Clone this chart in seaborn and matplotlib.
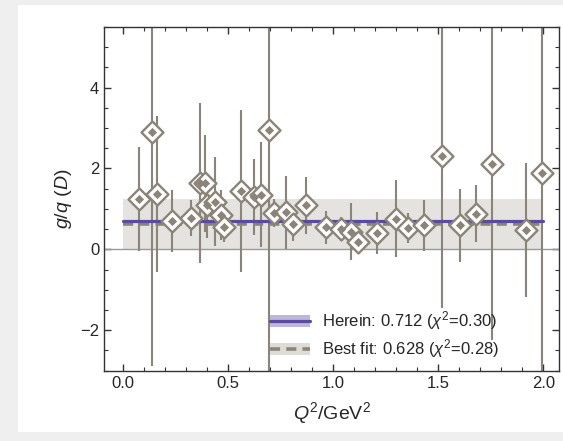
import numpy as np
import pandas as pd
import matplotlib
matplotlib.use("Agg")
import matplotlib.pyplot as plt
import seaborn as sns
from matplotlib.patches import Patch, Rectangle
from matplotlib.lines import Line2D
from matplotlib.ticker import MultipleLocator

# data
q2 = [0.073, 0.135, 0.160, 0.232, 0.322, 0.366, 0.390, 0.399, 0.436, 0.464, 0.481,
      0.560, 0.621, 0.655, 0.694, 0.718, 0.774, 0.806, 0.870, 0.964, 1.035, 1.082,
      1.119, 1.207, 1.299, 1.356, 1.433, 1.516, 1.603, 1.678, 1.754, 1.919, 1.995]
ratio = [1.24, 2.90, 1.37, 0.70, 0.77, 1.65, 1.64, 1.09, 1.18, 0.85, 0.56,
         1.45, 1.30, 1.35, 2.94, 0.90, 0.92, 0.62, 1.09, 0.54, 0.50, 0.44,
         0.19, 0.40, 0.76, 0.53, 0.59, 2.32, 0.59, 0.88, 2.10, 0.48, 1.88]
err = [1.28, 5.78, 1.92, 0.77, 0.45, 1.98, 1.20, 0.80, 1.10, 0.63, 0.37,
       2.00, 0.94, 1.30, 7.00, 0.35, 0.90, 0.42, 0.70, 0.40, 0.30, 0.70,
       0.24, 0.52, 0.95, 0.38, 0.63, 3.78, 0.91, 0.70, 4.34, 1.65, 5.50]

herein = 0.712
best_fit = 0.628
band_lo, band_hi = 0.0, 1.25
fit_range = [0.0, 2.0]

df = pd.DataFrame({"q2": q2, "ratio": ratio, "err": err})

sns.set_style("ticks")
plt.rcParams["font.family"] = ["Liberation Sans", "DejaVu Sans"]
plt.rcParams["mathtext.fontset"] = "custom"
plt.rcParams["mathtext.rm"] = "Liberation Sans"
plt.rcParams["mathtext.it"] = "Liberation Sans:italic"

fig = plt.figure(figsize=(5.63, 4.41), dpi=100, facecolor="#efefef")
fig.patches.append(Rectangle((18 / 563, 1 - 432 / 441), 1, 427 / 441,
                             transform=fig.transFigure, facecolor="white",
                             edgecolor="none", zorder=-10))
ax = fig.add_axes([104 / 563, 1 - 371 / 441, 455 / 563, 344 / 441])
ax.set_facecolor("none")

gray = "#8b8478"
purple = "#5b4a9e"

ax.fill_between(fit_range, band_lo, band_hi, color="#e4e3df", lw=0, zorder=1)
ax.axhline(0, color="#9a9a9a", lw=1, zorder=1)

ax.errorbar(df.q2, df.ratio, yerr=df.err, fmt="none", ecolor=gray, elinewidth=1.5,
            capsize=0, zorder=2)

fit_df = pd.DataFrame({"x": fit_range, "herein": [herein] * 2, "best": [best_fit] * 2})
sns.lineplot(data=fit_df, x="x", y="best", ax=ax, color=gray, lw=2.6,
             linestyle=(0, (2.8, 1.7)), zorder=3)
sns.lineplot(data=fit_df, x="x", y="herein", ax=ax, color=purple, lw=2.3, zorder=4)

sns.scatterplot(data=df, x="q2", y="ratio", ax=ax, marker="D", s=125,
                facecolor="white", edgecolor=gray, linewidth=1.7, zorder=5)
sns.scatterplot(data=df, x="q2", y="ratio", ax=ax, marker="D", s=22,
                color=gray, edgecolor=gray, linewidth=0, zorder=6)

ax.set_xlim(-0.092, 2.075)
ax.set_ylim(-3.01, 5.5)
ax.xaxis.set_major_locator(MultipleLocator(0.5))
ax.xaxis.set_minor_locator(MultipleLocator(0.1))
ax.yaxis.set_major_locator(MultipleLocator(2))
ax.yaxis.set_minor_locator(MultipleLocator(0.5))
ax.xaxis.set_major_formatter(matplotlib.ticker.FormatStrFormatter("%.1f"))
ax.yaxis.set_major_formatter(matplotlib.ticker.FuncFormatter(
    lambda v, p: f"{int(v)}".replace("-", "\u2212")))
ax.tick_params(which="both", direction="in", top=True, right=True,
               labelsize=12, color="#333333")
ax.tick_params(which="major", length=5, width=1)
ax.tick_params(which="minor", length=3, width=0.8)
for s in ax.spines.values():
    s.set_color("#333333")
    s.set_linewidth(1)

ax.set_xlabel(r"$Q^2$/GeV$^2$", fontsize=14, labelpad=7)
ax.set_ylabel(r"$g/q\ (D)$", fontsize=14, labelpad=4)

h1 = (Patch(facecolor="#bdb7dc", edgecolor="none"), Line2D([], [], color=purple, lw=2.3))
h2 = (Patch(facecolor="#dedcd7", edgecolor="none"),
      Line2D([], [], color=gray, lw=2.6, linestyle=(0, (2.8, 1.7))))
ax.legend([h1, h2], [r"Herein: 0.712 ($\chi^2$=0.30)", r"Best fit: 0.628 ($\chi^2$=0.28)"],
          loc="center left", bbox_to_anchor=((270 - 104) / 455, (371 - 335) / 344),
          frameon=False, borderpad=0, borderaxespad=0,
          fontsize=12, handlelength=2.4, handleheight=0.65, handletextpad=0.7,
          labelspacing=0.3)

fig.savefig("out.png", dpi=100, facecolor=fig.get_facecolor())
